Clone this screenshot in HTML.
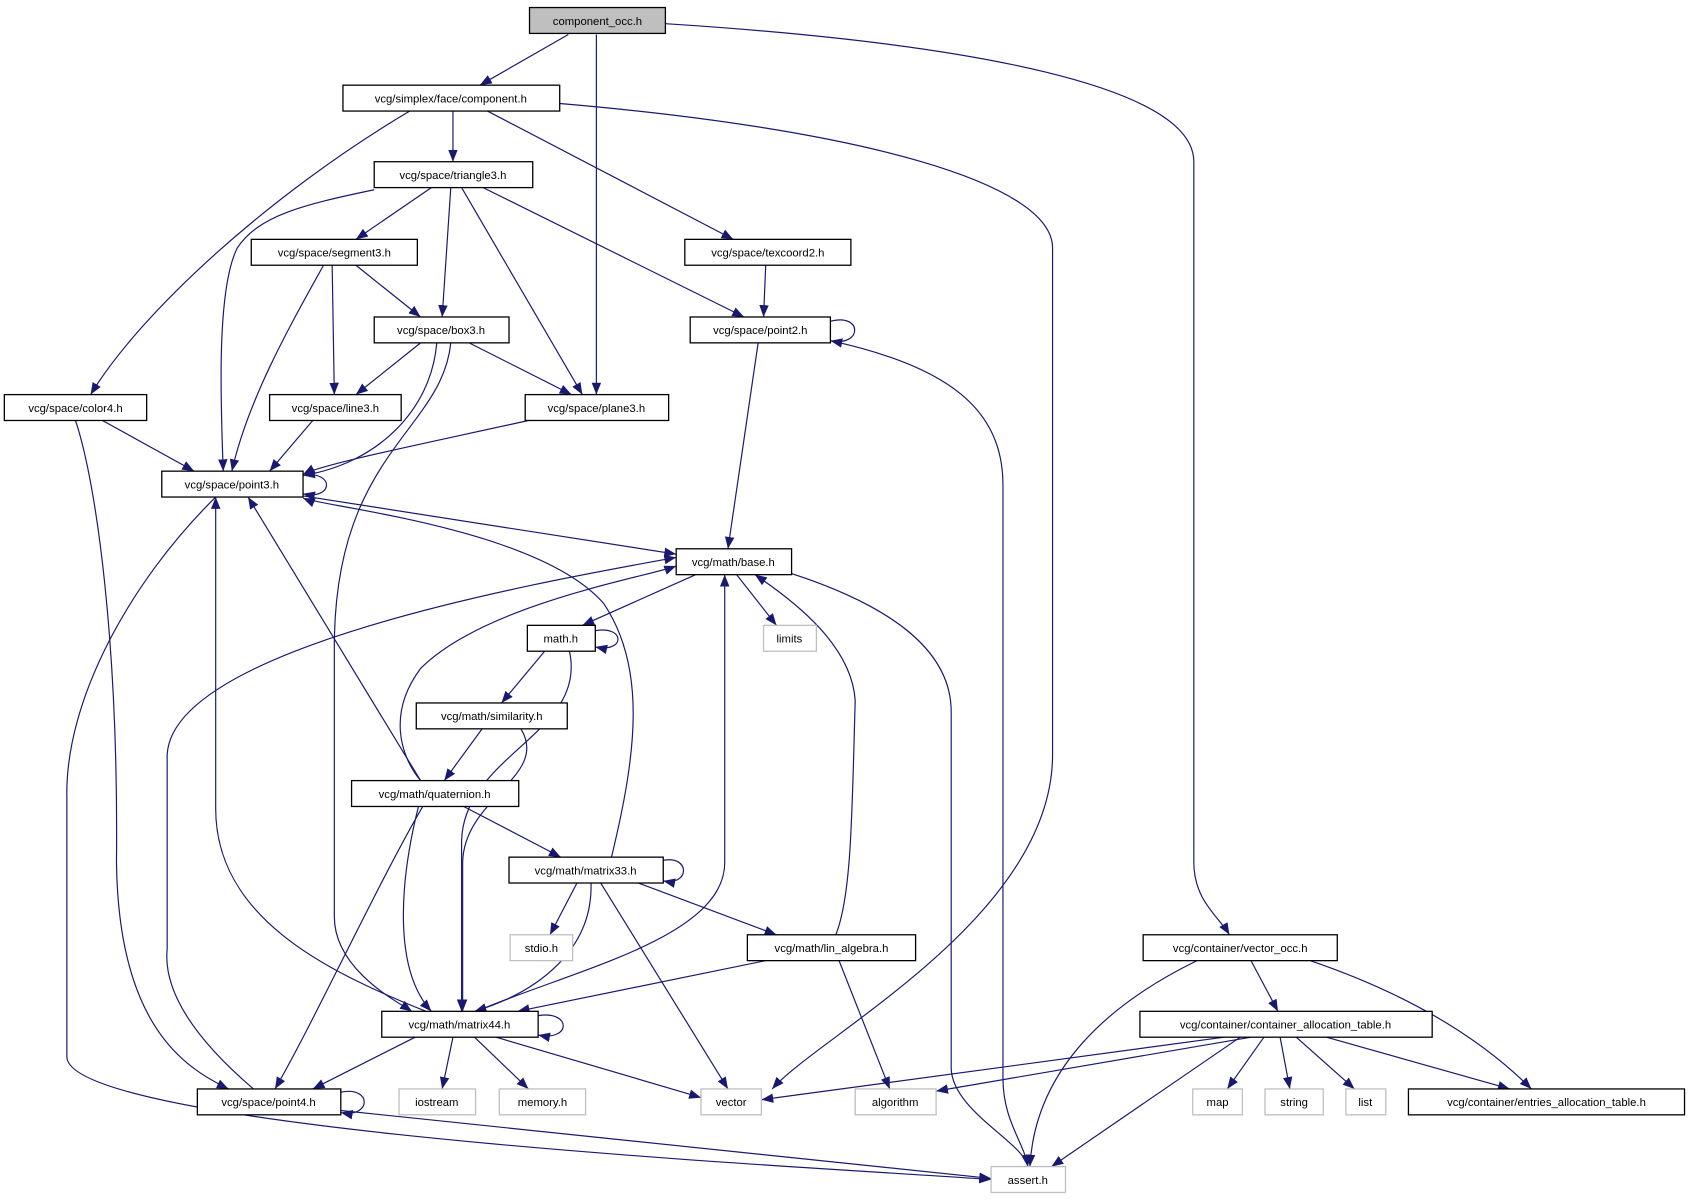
<!DOCTYPE html>
<html><head><meta charset="utf-8"><style>
html,body{margin:0;padding:0;background:#fff;}
svg{display:block;}
text{font-family:"Liberation Sans",sans-serif;font-size:10.5px;fill:#000;text-anchor:middle;}
.n{fill:#fff;stroke:#000;stroke-width:1.2;}
.g{fill:#fff;stroke:#bfbfbf;stroke-width:1.2;}
.e{fill:none;stroke:#191970;stroke-width:1.1;marker-end:url(#a);}
</style></head><body>
<svg width="1691" height="1200" viewBox="0 0 1568 1113" preserveAspectRatio="none" xmlns="http://www.w3.org/2000/svg">
<defs><marker id="a" viewBox="0 0 10 10" refX="10" refY="5" markerWidth="11" markerHeight="11" markerUnits="userSpaceOnUse" orient="auto"><path d="M0,1 L10,5 L0,9 z" fill="#191970"/></marker></defs>
<g>
<path class="e" d="M527,32 L445,79"/>
<path class="e" d="M553,32 L553,366"/>
<path class="e" d="M617,22 C900,40 1107,80 1107,150 L1107,800 C1107,835 1130,850 1140,867"/>
<path class="e" d="M420,103 L420,150"/>
<path class="e" d="M380,103 C250,180 130,290 84,366"/>
<path class="e" d="M452,103 L680,222"/>
<path class="e" d="M519,96 C800,120 976,170 976,230 L976,700 C976,850 760,960 716,1010"/>
<path class="e" d="M400,174 L330,222"/>
<path class="e" d="M418,174 L410,294"/>
<path class="e" d="M428,174 L540,366"/>
<path class="e" d="M448,174 L690,294"/>
<path class="e" d="M347,176 C280,190 240,200 220,230 C200,270 205,380 207,437"/>
<path class="e" d="M308,246 L310,366"/>
<path class="e" d="M330,246 L390,294"/>
<path class="e" d="M300,246 C270,300 230,370 215,437"/>
<path class="e" d="M710,246 L708,294"/>
<path class="e" d="M770,298 C800,290 800,322 770,316"/>
<path class="e" d="M703,318 L675,509"/>
<path class="e" d="M770,316 C880,340 930,380 930,450 L930,1000 C930,1040 950,1060 953,1082"/>
<path class="e" d="M390,318 L330,366"/>
<path class="e" d="M435,318 L530,366"/>
<path class="e" d="M405,318 C400,380 350,430 281,441"/>
<path class="e" d="M418,318 C410,400 310,420 310,600 L310,850 C310,900 370,930 382,938"/>
<path class="e" d="M95,390 L180,437"/>
<path class="e" d="M70,390 C90,450 110,600 108,800 C110,950 170,990 212,1010"/>
<path class="e" d="M290,390 L250,437"/>
<path class="e" d="M490,390 C400,410 300,430 281,440"/>
<path class="e" d="M281,441 C310,436 310,464 281,458"/>
<path class="e" d="M281,460 L627,514"/>
<path class="e" d="M200,461 C120,540 60,650 62,740 L62,980 C62,1050 800,1085 919,1094"/>
<path class="e" d="M645,533 L540,580"/>
<path class="e" d="M683,533 L720,580"/>
<path class="e" d="M734,532 C820,560 882,600 882,660 L882,990 C882,1030 950,1060 953,1082"/>
<path class="e" d="M552,585 C580,580 580,606 552,600"/>
<path class="e" d="M528,604 C545,680 430,700 428,780 L428,938"/>
<path class="e" d="M505,604 L465,652"/>
<path class="e" d="M483,676 C510,720 430,740 429,800 L429,938"/>
<path class="e" d="M447,676 L412,724"/>
<path class="e" d="M390,724 C370,700 360,660 390,620 C450,560 600,535 627,525"/>
<path class="e" d="M390,724 L230,461"/>
<path class="e" d="M430,748 L520,795"/>
<path class="e" d="M388,748 C370,820 365,900 400,938"/>
<path class="e" d="M392,748 C350,820 290,950 255,1010"/>
<path class="e" d="M615,798 C640,793 640,822 615,817"/>
<path class="e" d="M567,795 C590,700 600,620 560,560 C500,490 300,470 281,462"/>
<path class="e" d="M535,819 L510,867"/>
<path class="e" d="M592,819 L720,867"/>
<path class="e" d="M557,819 L675,1010"/>
<path class="e" d="M548,819 C550,880 500,920 440,938"/>
<path class="e" d="M775,867 C790,830 790,750 793,650 C790,600 740,560 700,533"/>
<path class="e" d="M778,891 L825,1010"/>
<path class="e" d="M710,891 L480,938"/>
<path class="e" d="M442,938 C530,900 672,870 672,800 L672,533"/>
<path class="e" d="M499,942 C530,937 530,966 499,960"/>
<path class="e" d="M395,938 C300,900 200,850 200,750 L200,461"/>
<path class="e" d="M385,962 L290,1010"/>
<path class="e" d="M420,962 L410,1010"/>
<path class="e" d="M440,962 L490,1010"/>
<path class="e" d="M460,962 L650,1018"/>
<path class="e" d="M316,1013 C345,1007 345,1037 316,1032"/>
<path class="e" d="M235,1010 C200,980 150,930 155,880 L155,700 C160,600 500,540 627,517"/>
<path class="e" d="M316,1030 L919,1093"/>
<path class="e" d="M1160,891 L1185,938"/>
<path class="e" d="M1215,891 C1300,920 1370,960 1420,1010"/>
<path class="e" d="M1110,891 C1030,930 960,990 955,1082"/>
<path class="e" d="M1135,962 L706,1020"/>
<path class="e" d="M1160,962 L868,1012"/>
<path class="e" d="M1150,962 L975,1082"/>
<path class="e" d="M1172,962 L1138,1010"/>
<path class="e" d="M1187,962 L1196,1010"/>
<path class="e" d="M1202,962 L1256,1010"/>
<path class="e" d="M1230,962 L1400,1010"/>
</g>
<g>
<rect x="491" y="7" width="126" height="24" fill="#bfbfbf" stroke="#000" stroke-width="1.2"/><text x="554" y="23">component_occ.h</text>
<rect class="n" x="318" y="79" width="201" height="24"/><text x="418" y="95">vcg/simplex/face/component.h</text>
<rect class="n" x="347" y="150" width="147" height="24"/><text x="420" y="166">vcg/space/triangle3.h</text>
<rect class="n" x="233" y="222" width="154" height="24"/><text x="310" y="238">vcg/space/segment3.h</text>
<rect class="n" x="635" y="222" width="154" height="24"/><text x="712" y="238">vcg/space/texcoord2.h</text>
<rect class="n" x="347" y="294" width="125" height="24"/><text x="409" y="310">vcg/space/box3.h</text>
<rect class="n" x="640" y="294" width="130" height="24"/><text x="705" y="310">vcg/space/point2.h</text>
<rect class="n" x="4" y="366" width="132" height="24"/><text x="70" y="382">vcg/space/color4.h</text>
<rect class="n" x="250" y="366" width="122" height="24"/><text x="311" y="382">vcg/space/line3.h</text>
<rect class="n" x="487" y="366" width="133" height="24"/><text x="553" y="382">vcg/space/plane3.h</text>
<rect class="n" x="150" y="437" width="131" height="24"/><text x="215" y="453">vcg/space/point3.h</text>
<rect class="n" x="627" y="509" width="107" height="24"/><text x="680" y="525">vcg/math/base.h</text>
<rect class="n" x="489" y="580" width="63" height="24"/><text x="520" y="596">math.h</text>
<rect class="g" x="708" y="580" width="49" height="24"/><text x="732" y="596">limits</text>
<rect class="n" x="386" y="652" width="140" height="24"/><text x="456" y="668">vcg/math/similarity.h</text>
<rect class="n" x="326" y="724" width="155" height="24"/><text x="403" y="740">vcg/math/quaternion.h</text>
<rect class="n" x="472" y="795" width="143" height="24"/><text x="543" y="811">vcg/math/matrix33.h</text>
<rect class="g" x="473" y="867" width="58" height="24"/><text x="502" y="883">stdio.h</text>
<rect class="n" x="693" y="867" width="156" height="24"/><text x="771" y="883">vcg/math/lin_algebra.h</text>
<rect class="n" x="1060" y="867" width="180" height="24"/><text x="1150" y="883">vcg/container/vector_occ.h</text>
<rect class="n" x="354" y="938" width="145" height="24"/><text x="426" y="954">vcg/math/matrix44.h</text>
<rect class="n" x="1057" y="938" width="271" height="24"/><text x="1192" y="954">vcg/container/container_allocation_table.h</text>
<rect class="n" x="183" y="1010" width="133" height="24"/><text x="249" y="1026">vcg/space/point4.h</text>
<rect class="g" x="370" y="1010" width="71" height="24"/><text x="405" y="1026">iostream</text>
<rect class="g" x="463" y="1010" width="80" height="24"/><text x="503" y="1026">memory.h</text>
<rect class="g" x="650" y="1010" width="56" height="24"/><text x="678" y="1026">vector</text>
<rect class="g" x="793" y="1010" width="75" height="24"/><text x="830" y="1026">algorithm</text>
<rect class="g" x="1106" y="1010" width="46" height="24"/><text x="1129" y="1026">map</text>
<rect class="g" x="1173" y="1010" width="54" height="24"/><text x="1200" y="1026">string</text>
<rect class="g" x="1248" y="1010" width="37" height="24"/><text x="1266" y="1026">list</text>
<rect class="n" x="1306" y="1010" width="256" height="24"/><text x="1434" y="1026">vcg/container/entries_allocation_table.h</text>
<rect class="g" x="919" y="1082" width="69" height="24"/><text x="953" y="1098">assert.h</text>
</g>
</svg>
</body></html>
